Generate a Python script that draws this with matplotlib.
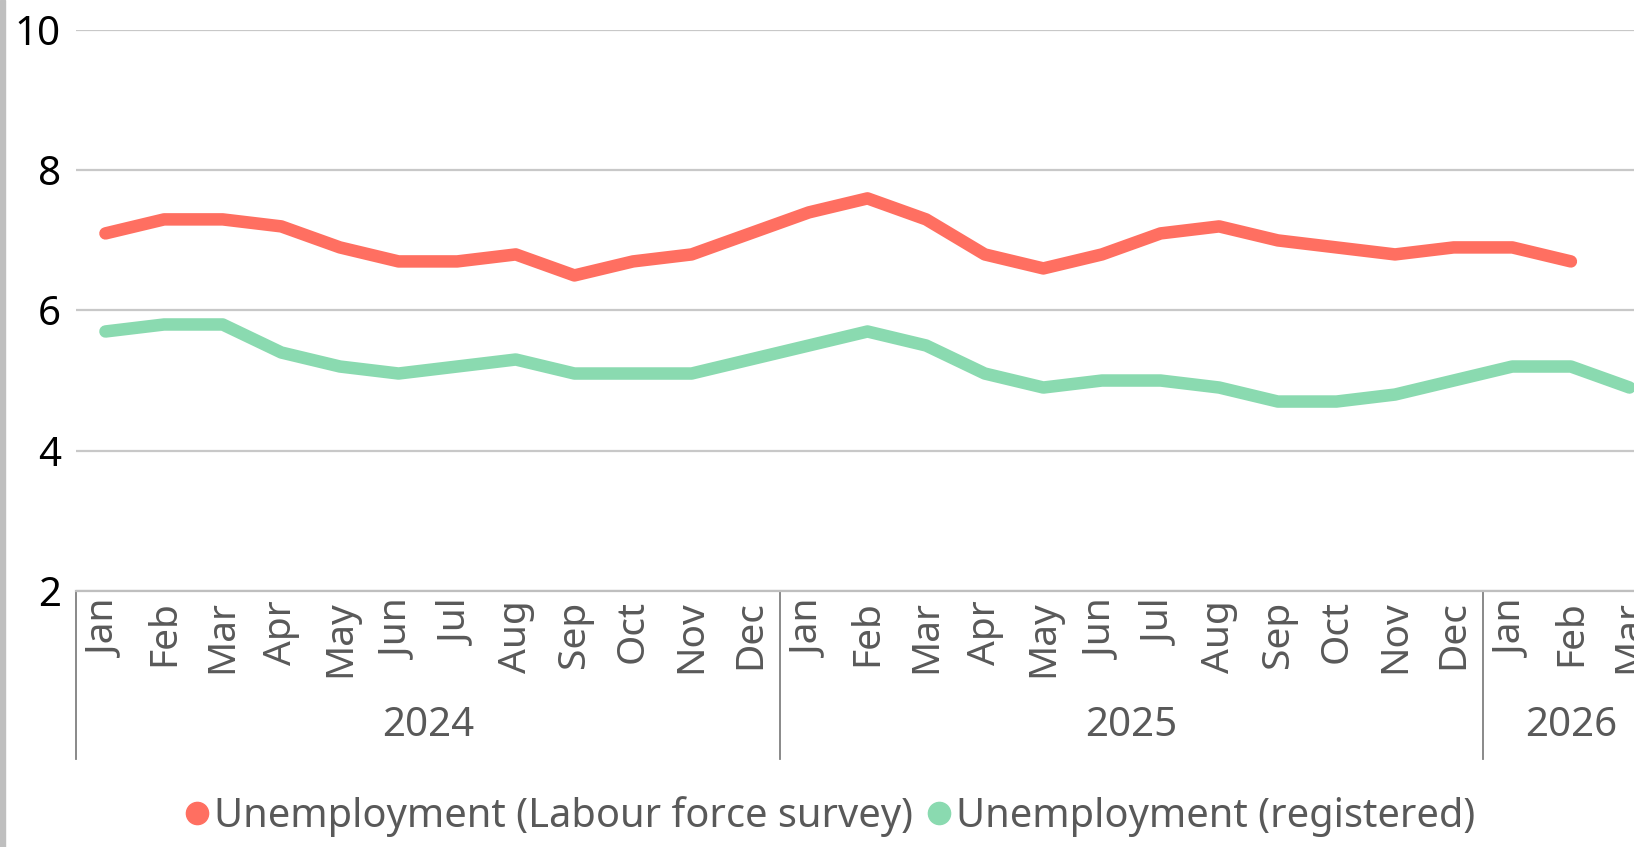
import matplotlib
matplotlib.use("Agg")
from matplotlib import pyplot as plt
from matplotlib.lines import Line2D
from matplotlib.patches import Rectangle
import matplotlib.transforms as mtransforms

plt.rcParams['font.family'] = ['Noto Sans', 'DejaVu Sans']

months = ['Jan', 'Feb', 'Mar', 'Apr', 'May', 'Jun', 'Jul', 'Aug', 'Sep', 'Oct', 'Nov', 'Dec',
          'Jan', 'Feb', 'Mar', 'Apr', 'May', 'Jun', 'Jul', 'Aug', 'Sep', 'Oct', 'Nov', 'Dec',
          'Jan', 'Feb', 'Mar']
years = ['2024', '2025', '2026']
year_sizes = [12, 12, 3]

lfs = [7.1, 7.3, 7.3, 7.2, 6.9, 6.7, 6.7, 6.8, 6.5, 6.7, 6.8, 7.1,
       7.4, 7.6, 7.3, 6.8, 6.6, 6.8, 7.1, 7.2, 7.0, 6.9, 6.8, 6.9,
       6.9, 6.7]
registered = [5.7, 5.8, 5.8, 5.4, 5.2, 5.1, 5.2, 5.3, 5.1, 5.1, 5.1, 5.3,
              5.5, 5.7, 5.5, 5.1, 4.9, 5.0, 5.0, 4.9, 4.7, 4.7, 4.8, 5.0,
              5.2, 5.2, 4.9]

RED = '#FF6F61'
GREEN = '#8ADAB0'
TEXT_GREY = '#595959'

fig = plt.figure(figsize=(16.34, 8.47), dpi=100)
# axes runs a little past the right edge, as in the cropped original
ax = fig.add_axes([0.0466, 0.3026, 0.9686, 0.6617])

x_lfs = list(range(len(lfs)))
x_reg = list(range(len(registered)))
ax.plot(x_lfs, lfs, color=RED, lw=9, solid_capstyle='round', solid_joinstyle='round', zorder=3)
ax.plot(x_reg, registered, color=GREEN, lw=9, solid_capstyle='round', solid_joinstyle='round', zorder=3)

ax.set_xlim(-0.5, len(months) - 0.5)
ax.set_ylim(2, 10)
ax.set_yticks([2, 4, 6, 8, 10])
ax.grid(axis='y', color='#c8c8c8', lw=1.6)
ax.set_axisbelow(True)
for s in ['top', 'right', 'left']:
    ax.spines[s].set_visible(False)
ax.spines['bottom'].set_color('#bfbfbf')
ax.spines['bottom'].set_linewidth(1.6)

ax.tick_params(axis='y', length=0, pad=11, labelsize=29, labelcolor='black')
ax.set_xticks(range(len(months)))
ax.set_xticklabels(months, rotation=90, color=TEXT_GREY, fontsize=28)
ax.tick_params(axis='x', length=0, pad=7)

# year groups below the month labels
trans = mtransforms.blended_transform_factory(ax.transData, ax.transAxes)
bounds = [-0.5]
for n in year_sizes:
    bounds.append(bounds[-1] + n)
for b in bounds[:-1]:
    ax.plot([b, b], [0, -0.30], color='#808080', lw=1.3, transform=trans, clip_on=False)
for i, y in enumerate(years):
    centre = (bounds[i] + bounds[i + 1]) / 2
    ax.text(centre, -0.242, y, transform=trans, ha='center', va='center',
            fontsize=29, color=TEXT_GREY)

# grey strip on the left border
fig.patches.append(Rectangle((0, 0), 0.0032, 1, transform=fig.transFigure,
                             color='#bfbfbf', zorder=0))

handles = [Line2D([], [], color=RED, marker='o', ls='', markersize=16),
           Line2D([], [], color=GREEN, marker='o', ls='', markersize=16)]
labels = ['Unemployment (Labour force survey)', 'Unemployment (registered)']
leg = fig.legend(handles, labels, loc='center', bbox_to_anchor=(0.508, 0.036), ncol=2,
                 frameon=False, fontsize=28.7, handlelength=0.6, handletextpad=0.12,
                 columnspacing=0.35, borderaxespad=0)
for t in leg.get_texts():
    t.set_color(TEXT_GREY)

fig.savefig('out.png', dpi=100)
